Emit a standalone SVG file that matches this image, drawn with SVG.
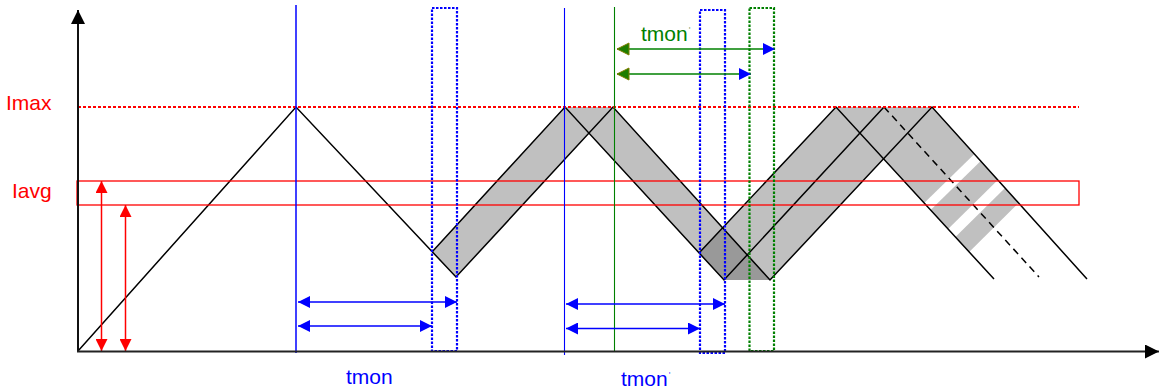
<svg xmlns="http://www.w3.org/2000/svg" width="1160" height="390" viewBox="0 0 1160 390">
<style>
.wave{stroke:#000;stroke-width:1.5;fill:none}
.band{fill:#c0c0c0;stroke:none}
.dark{fill:#999;stroke:none}
.lbl{font-family:"Liberation Sans",Arial,sans-serif;font-size:21px}
.dot{fill:none;stroke-width:2.2;stroke-dasharray:2.5 1.5}
.prime{font-family:"Liberation Sans",Arial,sans-serif;font-size:9px}
</style>
<defs>
<marker id="ab" viewBox="0 0 12 12" refX="12" refY="6" markerWidth="12" markerHeight="12" markerUnits="userSpaceOnUse" orient="auto-start-reverse"><path d="M0,0 L12,6 L0,12 z" fill="#0000ff"/></marker>
<marker id="ar" viewBox="0 0 12 12" refX="12" refY="6" markerWidth="12" markerHeight="12" markerUnits="userSpaceOnUse" orient="auto-start-reverse"><path d="M0,0 L12,6 L0,12 z" fill="#ff0000"/></marker>
<marker id="ag" viewBox="0 0 14 14" refX="13" refY="7" markerWidth="14" markerHeight="14" markerUnits="userSpaceOnUse" orient="auto-start-reverse"><path d="M1,1 L13,7 L1,13 z" fill="#1e7d00" stroke="#808000" stroke-width="1"/></marker>
<marker id="ak" viewBox="0 0 14 14" refX="14" refY="7" markerWidth="14" markerHeight="14" markerUnits="userSpaceOnUse" orient="auto"><path d="M0,0 L14,7 L0,14 z" fill="#000"/></marker>
</defs>
<rect width="1160" height="390" fill="#fff"/>

<g id="bands">
<polygon class="band" points="432,252 565,107 613,107 456,277"/>
<polygon class="band" points="565,107 613,107 770,280 724,280"/>
<polygon class="band" points="699,253 836,107 932,107 770,280 724,280"/>
<polygon class="dark" points="699,253 722.6,227.8 770,280 724,280"/>
<polygon class="band" points="836,107 932,107 974.4,154 924.2,203"/>
<polygon class="band" points="930.6,210 980.7,161 997.8,180 948.1,229"/>
<polygon class="band" points="955.4,237 1005,188 1018.5,203 969.2,252"/>
</g>

<g id="waveform">
<path class="wave" d="M78,351 L296,107 L456,277 L613,107 L770,280 L932,107 L1087,279"/>
<path class="wave" d="M432,252 L565,107 L724,280 L884,107"/>
<path class="wave" d="M699,253 L836,107 L994,279"/>
<path class="wave" d="M884,107 L1039,277" stroke-dasharray="7 5" stroke-width="1.1"/>
</g>

<g id="imax">
<line x1="78" y1="107" x2="1079" y2="107" stroke="#ff0000" stroke-width="2" stroke-dasharray="3 2"/>
<text class="lbl" x="6" y="110" fill="#ff0000">Imax</text>
</g>

<g id="iavg">
<rect x="77" y="181" width="1002" height="24" fill="none" stroke="#ff0000" stroke-width="1.3"/>
<text class="lbl" x="12" y="198" fill="#ff0000">Iavg</text>
</g>

<g id="markers-lines">
<line x1="296" y1="5" x2="296" y2="353" stroke="#0000ff" stroke-width="1.5"/>
<line x1="564.5" y1="8" x2="564.5" y2="355" stroke="#0000ff" stroke-width="1.1"/>
<line x1="614.5" y1="7" x2="614.5" y2="352" stroke="#008000" stroke-width="1.1"/>
</g>

<g id="windows">
<rect class="dot" x="432" y="8" width="25" height="343" stroke="#0000ff"/>
<rect class="dot" x="700" y="10" width="25" height="343" stroke="#0000ff"/>
<rect class="dot" x="749.5" y="8" width="24.5" height="343" stroke="#008000"/>
</g>

<g id="connectors">
<line x1="101.5" y1="181" x2="101.5" y2="351" stroke="#ff0000" stroke-width="1.5" marker-start="url(#ar)" marker-end="url(#ar)"/>
<line x1="125.5" y1="205" x2="125.5" y2="351" stroke="#ff0000" stroke-width="1.5" marker-start="url(#ar)" marker-end="url(#ar)"/>
<line x1="298" y1="302" x2="457" y2="302" stroke="#0000ff" stroke-width="1.5" marker-start="url(#ab)" marker-end="url(#ab)"/>
<line x1="298" y1="326" x2="432" y2="326" stroke="#0000ff" stroke-width="1.5" marker-start="url(#ab)" marker-end="url(#ab)"/>
<line x1="566" y1="304" x2="725" y2="304" stroke="#0000ff" stroke-width="1.5" marker-start="url(#ab)" marker-end="url(#ab)"/>
<line x1="566" y1="328.5" x2="700" y2="328.5" stroke="#0000ff" stroke-width="1.5" marker-start="url(#ab)" marker-end="url(#ab)"/>
<line x1="617" y1="49" x2="775" y2="49" stroke="#008000" stroke-width="1.5" marker-start="url(#ag)" marker-end="url(#ab)"/>
<line x1="617" y1="74" x2="751" y2="74" stroke="#008000" stroke-width="1.5" marker-start="url(#ag)" marker-end="url(#ab)"/>
</g>

<g id="axes">
<line x1="78" y1="351.5" x2="78" y2="10" stroke="#111" stroke-width="2" marker-end="url(#ak)"/>
<line x1="77" y1="351.5" x2="1159" y2="351.5" stroke="#222" stroke-width="2" marker-end="url(#ak)"/>
</g>

<g id="labels">
<text class="lbl" x="346" y="384" fill="#0000ff">tmon</text>
<text class="lbl" x="621" y="386" fill="#0000ff">tmon<tspan class="prime" dx="1" dy="-8" fill="#5050ff">'</tspan></text>
<text class="lbl" x="641" y="41" fill="#008000">tmon<tspan class="prime" dx="1" dy="-8" fill="#70a070">'</tspan></text>
</g>
</svg>
